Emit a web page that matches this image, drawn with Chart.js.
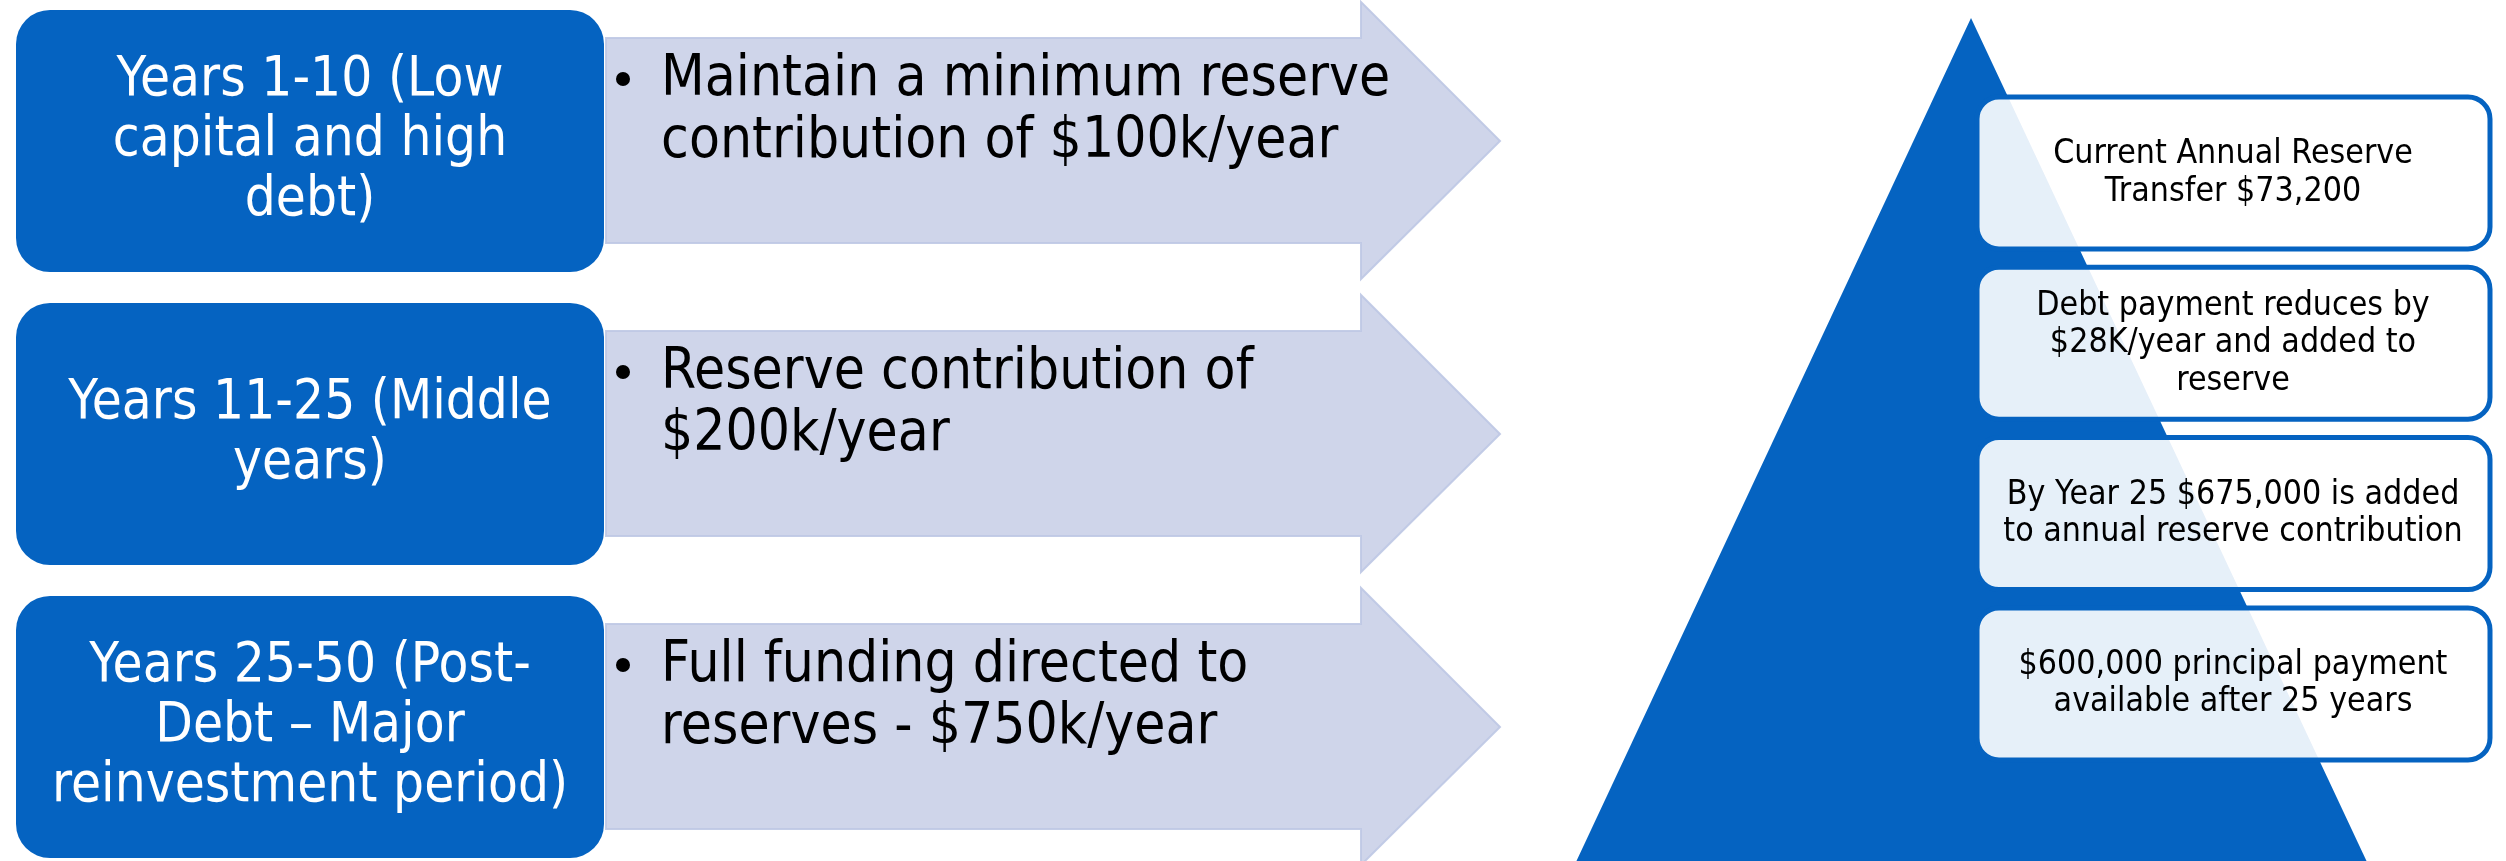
<!DOCTYPE html>
<html>
<head>
<meta charset="utf-8">
<script src="https://cdn.jsdelivr.net/npm/chart.js@4.4.0/dist/chart.umd.min.js"></script>
<style>
  html, body { margin: 0; padding: 0; background: #ffffff; }
  #wrap { width: 2506px; height: 861px; }
</style>
</head>
<body>
<div id="wrap"><canvas id="chart"></canvas></div>
<script>
// text of the diagram
const periods = [
  'Years 1-10 (Low\ncapital and high\ndebt)',
  'Years 11-25 (Middle\nyears)',
  'Years 25-50 (Post-\nDebt \u2013 Major\nreinvestment period)',
]
const actions = [
  'Maintain a minimum reserve\ncontribution of $100k/year',
  'Reserve contribution of\n$200k/year',
  'Full funding directed to\nreserves - $750k/year',
]
const notes = [
  'Current Annual Reserve\nTransfer $73,200',
  'Debt payment reduces by\n$28K/year and added to\nreserve',
  'By Year 25 $675,000 is added\nto annual reserve contribution',
  '$600,000 principal payment\navailable after 25 years',
]

const blue = '#0563C1'
const arrowColor = '#CFD5EA'
const fontFamily = '"DejaVu Sans", Verdana, sans-serif'
const squeeze = 0.89 // DejaVu is wider than the original Tahoma

// layout in page units, mapped through the chart scales
const rowTop = 141
const rowStep = 293
const noteTop = 95
const noteStep = 170.3

function drawLines(ctx, lines, x, y, lh, size, color, align, baseline) {
  ctx.fillStyle = color
  ctx.font = size + 'px ' + fontFamily
  ctx.textAlign = align
  ctx.textBaseline = baseline
  lines.forEach((line, i) => {
    ctx.save()
    ctx.translate(x, y + i * lh)
    ctx.scale(squeeze, 1)
    ctx.fillText(line, 0, 0)
    ctx.restore()
  })
}

const diagramPlugin = {
  id: 'diagram',
  afterDraw(chart) {
    const ctx = chart.ctx
    const sx = chart.scales.x
    const sy = chart.scales.y
    const px = (v) => sx.getPixelForValue(v)
    const py = (v) => sy.getPixelForValue(v)

    // arrows with action text
    actions.forEach((text, i) => {
      const cy = rowTop + i * rowStep
      ctx.beginPath()
      ctx.moveTo(px(606), py(cy - 103))
      ctx.lineTo(px(1361), py(cy - 103))
      ctx.lineTo(px(1361), py(cy - 139))
      ctx.lineTo(px(1500), py(cy))
      ctx.lineTo(px(1361), py(cy + 138))
      ctx.lineTo(px(1361), py(cy + 102))
      ctx.lineTo(px(606), py(cy + 102))
      ctx.closePath()
      ctx.fillStyle = arrowColor
      ctx.fill()
      ctx.strokeStyle = 'rgba(190,200,228,0.9)'
      ctx.lineWidth = 2
      ctx.stroke()

      ctx.beginPath()
      ctx.arc(px(623), py(cy - 62), 7, 0, Math.PI * 2)
      ctx.fillStyle = '#000'
      ctx.fill()
      drawLines(ctx, text.split('\n'), px(661), py(cy - 46), 62, 57, '#000', 'left', 'alphabetic')
    })

    // period boxes
    periods.forEach((text, i) => {
      const cy = rowTop + i * rowStep
      ctx.beginPath()
      ctx.roundRect(px(16), py(cy - 131), px(604) - px(16), py(cy + 131) - py(cy - 131), 34)
      ctx.fillStyle = blue
      ctx.fill()
      const lines = text.split('\n')
      const lh = 60
      drawLines(ctx, lines, px(310), py(cy - (lines.length - 1) * lh / 2), lh, 55, '#fff', 'center', 'middle')
    })

    // pyramid
    ctx.beginPath()
    ctx.moveTo(px(1971), py(18))
    ctx.lineTo(px(2367), py(862))
    ctx.lineTo(px(1576), py(862))
    ctx.closePath()
    ctx.fillStyle = blue
    ctx.fill()

    // note boxes on the pyramid
    notes.forEach((text, i) => {
      const top = noteTop + i * noteStep
      ctx.beginPath()
      ctx.roundRect(px(1977), py(top + 2), px(2490) - px(1977), py(top + 154) - py(top + 2), 22)
      ctx.fillStyle = 'rgba(255,255,255,0.9)'
      ctx.fill()
      ctx.strokeStyle = blue
      ctx.lineWidth = 5
      ctx.stroke()
      const lines = text.split('\n')
      const lh = 37.5
      const cy = top + 78
      drawLines(ctx, lines, px(2233), py(cy - (lines.length - 1) * lh / 2), lh, 34, '#000', 'center', 'middle')
    })
  },
}

const config = {
  type: 'scatter',
  data: { datasets: [] },
  options: {
    responsive: true,
    maintainAspectRatio: false,
    animation: false,
    layout: { padding: 0 },
    events: [],
    scales: {
      x: { type: 'linear', min: 0, max: 2506, display: false },
      y: { type: 'linear', min: 0, max: 861, reverse: true, display: false },
    },
    plugins: {
      legend: { display: false },
      tooltip: { enabled: false },
    },
  },
  plugins: [diagramPlugin],
}

new Chart(document.getElementById('chart'), config)
</script>
</body>
</html>
